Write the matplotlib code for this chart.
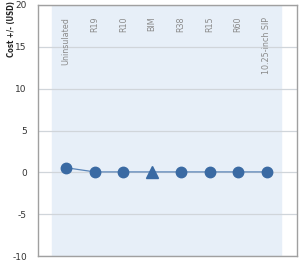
import matplotlib
matplotlib.use("Agg")
import matplotlib.pyplot as plt

plt.rcParams["axes.unicode_minus"] = False

categories = ["Uninsulated", "R19", "R10", "BIM", "R38", "R15", "R60", "10.25-inch SIP"]
values = [0.55, 0.05, 0.05, 0.05, 0.05, 0.05, 0.05, 0.05]
markers = ["o", "o", "o", "^", "o", "o", "o", "o"]
yticks = [-10, -5, 0, 5, 10, 15, 20]

fig = plt.figure(figsize=(3.01, 2.66), dpi=100)
ax = fig.add_axes([38/301, 10/266, (297-38)/301, (256-5)/266])
ax.set_xlim(-0.98, 8.05)
ax.set_ylim(-10, 20)

ax.axvspan(-0.5, len(categories) - 0.5, color="#e7eff8", zorder=0)
for t in yticks:
    ax.axhline(t, color="#d0d5da", lw=0.9, zorder=1)

xs = list(range(len(categories)))
ax.plot(xs, values, color="#5a85b8", lw=0.9, zorder=2)
for x, v, m in zip(xs, values, markers):
    ax.plot(x, v, marker=m, ms=8 if m == "^" else 7.5, color="#3a6aa3", ls="none", zorder=3)

for x, c in zip(xs, categories):
    ax.text(x, 18.6, c, rotation=90, ha="center", va="top", fontsize=5.8, color="#8a8a8a")

ax.set_xticks([])
ax.set_yticks(yticks)
ax.set_yticklabels([str(t) for t in yticks])
ax.tick_params(axis="y", length=0, labelsize=6.5, colors="#333333", pad=8)
ax.set_ylabel("Cost +/- (USD)", fontsize=5.6, fontweight="bold", color="#222222",
              fontstretch="condensed")
ax.yaxis.set_label_coords(-0.085, 0.905)
for s in ax.spines.values():
    s.set_color("#a0a0a0")
    s.set_linewidth(1.0)

fig.savefig("out.png", dpi=100)
